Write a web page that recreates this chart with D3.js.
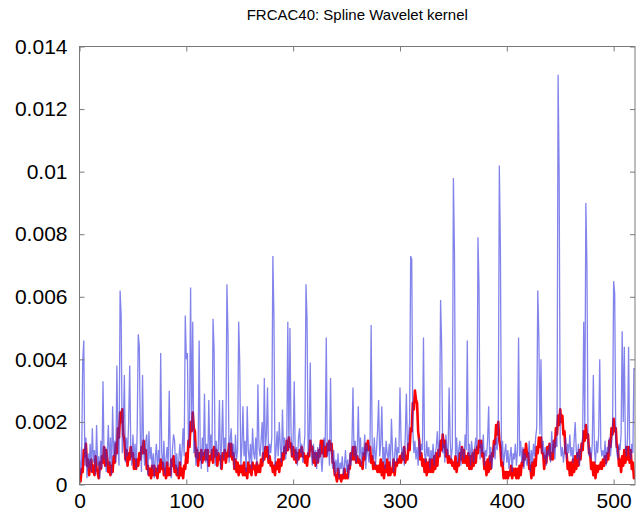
<!DOCTYPE html>
<html>
<head>
<meta charset="utf-8">
<script src="https://cdn.jsdelivr.net/npm/d3@7"></script>
<style>
    body { margin: 0; background: #fff; }
    #chart { width: 642px; height: 511px; }
    text { font-family: "Liberation Sans", Arial, sans-serif; fill: #000; }
</style>
</head>
<body>
<div id="chart"></div>
<script>
// values are in units of 1e-4
var blue = [
    12, 3, 8, 39, 46, 6, 15, 2, 10, 5,
    13, 4, 18, 7, 11, 3, 19, 6, 9, 2,
    14, 5, 33, 8, 12, 4, 10, 19, 6, 15,
    3, 25, 9, 14, 7, 38, 12, 6, 62, 54,
    10, 18, 35, 7, 15, 9, 20, 38, 11, 6,
    16, 8, 13, 5, 17, 48, 44, 14, 4, 35,
    11, 6, 14, 16, 3, 17, 8, 12, 5, 10,
    2, 9, 13, 4, 11, 7, 42, 10, 5, 14,
    3, 8, 12, 6, 30, 9, 2, 11, 16, 14,
    5, 10, 3, 8, 13, 6, 11, 18, 9, 54,
    40, 42, 12, 20, 63, 17, 52, 10, 14, 6,
    12, 8, 46, 11, 5, 15, 9, 29, 7, 13,
    4, 27, 10, 16, 8, 53, 43, 6, 14, 9,
    11, 27, 5, 13, 27, 8, 15, 10, 64, 48,
    7, 14, 18, 9, 13, 5, 16, 8, 11, 52,
    39, 6, 12, 25, 9, 14, 4, 25, 11, 7,
    13, 5, 18, 10, 8, 15, 6, 32, 12, 9,
    14, 20, 7, 34, 11, 16, 31, 8, 13, 10,
    15, 73, 54, 6, 11, 17, 9, 20, 12, 7,
    24, 10, 15, 8, 13, 52, 11, 50, 17, 9,
    14, 33, 8, 12, 6, 15, 18, 10, 13, 7,
    11, 16, 64, 53, 9, 14, 39, 10, 6, 13,
    8, 11, 5, 12, 7, 13, 9, 4, 10, 15,
    12, 47, 9, 14, 6, 34, 10, 5, 11, 3,
    8, 4, 10, 2, 7, 5, 9, 3, 6, 11,
    4, 8, 2, 10, 6, 12, 31, 9, 14, 7,
    11, 25, 8, 15, 6, 12, 9, 16, 5, 13,
    10, 7, 14, 51, 12, 8, 15, 6, 11, 17,
    27, 9, 13, 25, 7, 12, 5, 14, 10, 8,
    13, 6, 21, 11, 4, 9, 15, 7, 12, 10,
    31, 14, 8, 12, 6, 16, 29, 11, 15, 20,
    73, 72, 18, 10, 14, 8, 12, 6, 15, 9,
    13, 11, 47, 10, 7, 14, 9, 12, 5, 11,
    8, 13, 6, 10, 12, 17, 9, 14, 59, 45,
    10, 13, 7, 16, 11, 9, 31, 14, 8, 12,
    98, 74, 9, 15, 7, 11, 14, 6, 12, 10,
    8, 16, 11, 46, 9, 13, 6, 14, 10, 7,
    12, 15, 11, 79, 63, 8, 13, 10, 16, 6,
    11, 9, 14, 25, 7, 12, 5, 10, 13, 8,
    15, 11, 17, 102, 76, 8, 14, 6, 10, 13,
    7, 11, 5, 9, 12, 4, 10, 8, 13, 6,
    11, 47, 9, 14, 7, 12, 5, 10, 8, 6,
    9, 14, 4, 11, 7, 13, 9, 15, 18, 62,
    47, 16, 40, 10, 14, 8, 12, 6, 11, 9,
    13, 7, 17, 10, 14, 8, 15, 12, 131, 99,
    14, 9, 12, 7, 11, 15, 8, 13, 10, 16,
    9, 12, 7, 14, 20, 11, 8, 13, 6, 10,
    12, 15, 52, 18, 90, 70, 14, 9, 12, 8,
    13, 35, 11, 7, 14, 10, 16, 40, 12, 9,
    11, 8, 14, 6, 12, 10, 15, 9, 13, 17,
    65, 61, 14, 10, 8, 13, 11, 16, 49, 20,
    44, 12, 9, 15, 44, 11, 8, 13, 10, 37,
    37
];

var red = [
    3, 1, 5, 4, 11, 9, 13, 6, 8, 3,
    6, 8, 4, 6, 3, 9, 5, 4, 2, 7,
    5, 9, 7, 12, 6, 11, 8, 4, 7, 3,
    6, 4, 9, 7, 13, 10, 18, 15, 23, 20,
    24, 16, 14, 8, 11, 6, 10, 8, 12, 9,
    10, 5, 8, 5, 8, 6, 10, 8, 12, 10,
    14, 10, 11, 5, 6, 3, 5, 2, 6, 3,
    6, 3, 5, 2, 6, 4, 8, 5, 7, 3,
    5, 2, 7, 3, 5, 3, 8, 6, 9, 4,
    6, 3, 5, 2, 7, 3, 5, 2, 6, 5,
    10, 7, 14, 12, 20, 17, 23, 18, 17, 9,
    11, 6, 10, 8, 11, 7, 10, 8, 11, 8,
    11, 6, 9, 8, 11, 7, 12, 9, 11, 6,
    10, 8, 9, 5, 10, 8, 11, 7, 10, 9,
    13, 9, 13, 8, 10, 5, 8, 4, 7, 3,
    6, 4, 6, 3, 7, 3, 5, 2, 7, 4,
    6, 3, 7, 5, 6, 3, 7, 4, 6, 4,
    8, 6, 10, 8, 12, 9, 12, 7, 9, 6,
    7, 4, 6, 3, 7, 5, 8, 4, 8, 6,
    10, 8, 12, 10, 14, 11, 15, 12, 13, 9,
    12, 8, 11, 7, 10, 8, 11, 9, 12, 9,
    10, 7, 9, 6, 10, 9, 14, 11, 12, 7,
    10, 6, 10, 7, 11, 9, 14, 10, 14, 9,
    12, 9, 13, 11, 14, 11, 13, 7, 7, 3,
    3, 1, 5, 2, 3, 1, 3, 2, 5, 2,
    3, 2, 6, 5, 10, 8, 12, 8, 12, 7,
    9, 7, 8, 6, 7, 5, 10, 8, 13, 11,
    14, 11, 12, 7, 9, 5, 7, 5, 6, 4,
    6, 4, 8, 3, 7, 2, 6, 4, 8, 3,
    7, 3, 5, 4, 8, 3, 7, 6, 8, 7,
    9, 7, 10, 8, 12, 7, 9, 8, 13, 11,
    18, 17, 26, 24, 30, 27, 26, 17, 14, 8,
    10, 6, 8, 4, 8, 3, 7, 4, 8, 4,
    8, 4, 9, 5, 10, 6, 11, 9, 14, 11,
    16, 12, 14, 9, 11, 7, 9, 7, 8, 6,
    7, 5, 9, 4, 7, 6, 10, 8, 12, 7,
    11, 7, 9, 6, 10, 5, 9, 5, 10, 6,
    11, 7, 12, 10, 14, 12, 14, 9, 10, 5,
    7, 3, 8, 4, 9, 5, 10, 9, 14, 13,
    19, 16, 20, 14, 12, 6, 7, 2, 4, 2,
    4, 2, 4, 3, 6, 2, 5, 3, 5, 2,
    5, 2, 6, 3, 7, 6, 11, 8, 13, 9,
    10, 5, 6, 2, 7, 3, 8, 6, 12, 10,
    15, 12, 15, 10, 10, 5, 9, 7, 12, 10,
    13, 8, 10, 8, 14, 12, 18, 16, 22, 19,
    24, 20, 22, 16, 17, 10, 10, 5, 7, 3,
    7, 3, 8, 4, 9, 5, 10, 6, 11, 8,
    13, 11, 17, 14, 19, 15, 16, 10, 10, 5,
    7, 3, 7, 2, 6, 4, 6, 5, 7, 5,
    8, 6, 9, 7, 10, 8, 14, 12, 18, 16,
    21, 17, 18, 12, 12, 6, 8, 4, 9, 6,
    11, 7, 12, 8, 12, 7, 11, 5, 7, 2,
    3
];

var xTicks = [0, 100, 200, 300, 400, 500];
var yTicks = [0, 20, 40, 60, 80, 100, 120, 140];
var yTickLabels = ["0", "0.002", "0.004", "0.006", "0.008", "0.01", "0.012", "0.014"];
var title = "FRCAC40: Spline Wavelet kernel";

var Plot = function(container) {
    var self = this;
    this.chart = document.getElementById(container);
    this.cx = 642;
    this.cy = 511;
    this.padding = { top: 46.5, left: 79.5, right: 7, bottom: 26.5 };
    this.size = {
        width: self.cx - self.padding.left - self.padding.right,
        height: self.cy - self.padding.top - self.padding.bottom
    };

    this.x = d3.scaleLinear().domain([0, 520]).range([0, this.size.width]);
    this.y = d3.scaleLinear().domain([0, 140]).range([this.size.height, 0]);

    this.svg = d3.select(this.chart).append("svg")
        .attr("width", this.cx)
        .attr("height", this.cy);

    this.vis = this.svg.append("g")
        .attr("transform", "translate(" + this.padding.left + "," + this.padding.top + ")");

    this.draw();
}

Plot.prototype.draw = function() {
    var self = this;
    var w = this.size.width, h = this.size.height;

    this.svg.append("text")
        .attr("x", this.padding.left + w / 2)
        .attr("y", 20)
        .attr("text-anchor", "middle")
        .style("font-size", "15px")
        .text(title);

    this.vis.append("clipPath").attr("id", "clip")
        .append("rect").attr("width", w).attr("height", h);

    var line = d3.line()
        .x(function(d, i) { return self.x(i); })
        .y(function(d) { return self.y(d); });

    var lines = this.vis.append("g").attr("clip-path", "url(#clip)");

    lines.append("path")
        .datum(red)
        .attr("d", line)
        .attr("fill", "none")
        .attr("stroke", "#ff0000")
        .attr("stroke-width", 2.6)
        .attr("stroke-linejoin", "round");

    lines.append("path")
        .datum(blue)
        .attr("d", line)
        .attr("fill", "none")
        .attr("stroke", "#3030e0")
        .attr("stroke-opacity", 0.6)
        .attr("stroke-width", 1.3);

    // box + inward ticks, MATLAB style
    var axisColor = "#7a7a7a";
    this.vis.append("rect")
        .attr("width", w).attr("height", h)
        .attr("fill", "none").attr("stroke", axisColor).attr("stroke-width", 1);

    var bottom = d3.axisBottom(this.x).tickValues(xTicks).tickSize(-5).tickPadding(9).tickSizeOuter(0);
    var top = d3.axisTop(this.x).tickValues(xTicks).tickSize(-5).tickFormat("").tickSizeOuter(0);
    var left = d3.axisLeft(this.y).tickValues(yTicks).tickSize(-5).tickPadding(12).tickSizeOuter(0)
        .tickFormat(function(d, i) { return yTickLabels[i]; });
    var right = d3.axisRight(this.y).tickValues(yTicks).tickSize(-5).tickFormat("").tickSizeOuter(0);

    var gb = this.vis.append("g").attr("transform", "translate(0," + h + ")").call(bottom);
    var gt = this.vis.append("g").call(top);
    var gl = this.vis.append("g").call(left);
    var gr = this.vis.append("g").attr("transform", "translate(" + w + ",0)").call(right);

    [gb, gt, gl, gr].forEach(function(g) {
        g.select(".domain").remove();
        g.selectAll("line").attr("stroke", axisColor);
        g.selectAll("text")
            .style("font-size", "21px")
            .style("font-family", "'Liberation Sans', Arial, sans-serif")
            .attr("fill", "#000");
    });
}

new Plot("chart");
</script>
</body>
</html>
